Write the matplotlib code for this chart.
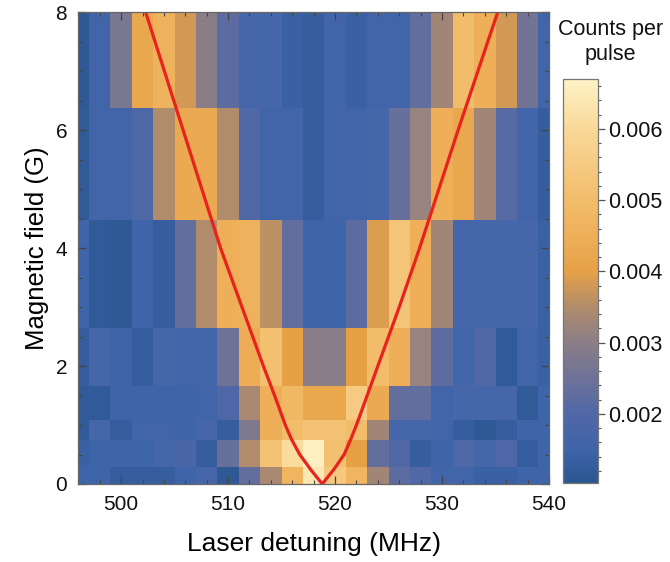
import numpy as np
import matplotlib
matplotlib.use("Agg")
import matplotlib.pyplot as plt
from matplotlib.colors import LinearSegmentedColormap, Normalize
from matplotlib.ticker import MultipleLocator

plt.rcParams['font.family'] = ['Liberation Sans', 'DejaVu Sans']

# Laser detuning (MHz) at column centres
detuning = np.arange(496, 541, 2)
# Magnetic field bin edges (G)
field_edges = [0, 0.29, 0.75, 1.08, 1.66, 2.65, 4.47, 6.37, 8]

# Counts per pulse, rows from lowest field to highest (x1e-3)
row0 = [1.5, 1.5, 1.3, 1.3, 1.3, 1.5, 1.7, 1.1, 2.3, 3.4, 4.7, 6.4, 5.4, 4.7, 3.3, 2.2, 2.0, 1.6, 1.6, 1.4, 1.4, 1.5, 1.5]
row1 = [1.4, 1.5, 1.5, 1.5, 1.7, 1.8, 1.3, 2.4, 3.5, 5.2, 6.1, 6.6, 5.1, 4.0, 2.3, 2.0, 1.3, 1.5, 1.9, 1.7, 1.9, 1.3, 1.5]
row2 = [1.2, 1.7, 1.3, 1.6, 1.6, 1.5, 1.7, 1.3, 2.8, 4.5, 5.0, 5.2, 5.2, 5.0, 3.3, 1.7, 1.7, 1.6, 1.3, 1.1, 1.3, 1.5, 1.5]
row3 = [1.2, 1.2, 1.5, 1.5, 1.5, 1.5, 1.6, 1.9, 3.4, 4.5, 4.8, 4.2, 4.2, 5.5, 4.3, 2.3, 2.3, 1.6, 1.7, 1.7, 1.7, 1.2, 1.5]
row4 = [1.3, 1.7, 1.5, 1.3, 1.7, 1.6, 1.6, 2.5, 4.4, 5.1, 4.0, 3.0, 3.0, 4.0, 5.0, 4.5, 3.2, 2.2, 1.6, 2.0, 1.2, 1.6, 1.4]
row5 = [1.5, 1.2, 1.1, 1.5, 1.3, 2.3, 3.5, 4.5, 4.6, 3.6, 2.3, 1.5, 1.5, 2.2, 3.9, 5.3, 4.5, 3.3, 1.7, 1.7, 1.7, 1.7, 1.4]
row6 = [1.2, 1.6, 1.6, 1.9, 3.5, 4.3, 4.3, 3.5, 2.0, 1.6, 1.6, 1.3, 1.6, 1.6, 1.7, 2.4, 3.2, 4.5, 4.2, 3.3, 2.1, 1.6, 1.3]
row7 = [1.1, 1.6, 2.7, 4.2, 4.6, 3.8, 3.0, 2.2, 1.7, 1.7, 1.4, 1.3, 1.6, 1.4, 1.6, 1.6, 2.3, 3.3, 5.0, 4.5, 3.8, 2.6, 1.6]

# Theory curve
curve_field = [0, 0.25, 0.5, 0.75, 1, 1.5, 2, 3, 4, 5, 6, 7, 8]
curve_left = [518.8, 517.7, 516.7, 515.95, 515.35, 514.35, 513.3, 511.3, 509.3, 507.55, 505.8, 504.05, 502.3]
curve_right = [518.8, 519.9, 520.85, 521.45, 522.0, 523.0, 524.0, 526.0, 527.9, 529.7, 531.5, 533.35, 535.2]

counts = np.array([row0, row1, row2, row3, row4, row5, row6, row7]) * 1e-3

vmin, vmax = 0.00103, 0.0067
anchors = [
    (0.00103, '#2b5790'),
    (0.0015, '#3e64a9'),
    (0.0020, '#5168a6'),
    (0.0025, '#6e7298'),
    (0.0030, '#8a7e88'),
    (0.0035, '#b08c6c'),
    (0.0040, '#e6a147'),
    (0.0045, '#eeaf58'),
    (0.0050, '#f2bd6a'),
    (0.0055, '#f6ca82'),
    (0.0060, '#f9d898'),
    (0.0067, '#fdf2c6'),
]
cmap = LinearSegmentedColormap.from_list(
    'cpp', [((v - vmin) / (vmax - vmin), c) for v, c in anchors])

det = np.array(detuning, dtype=float)
x_edges = np.concatenate([[det[0]], (det[:-1] + det[1:]) / 2, [det[-1]]])

fig = plt.figure(figsize=(6.70, 5.62), dpi=100)
ax = fig.add_axes([0.1169, 0.1388, 0.7025, 0.8393])
mesh = ax.pcolormesh(x_edges, field_edges, counts, cmap=cmap,
                     norm=Normalize(vmin=vmin, vmax=vmax), shading='flat')
ax.plot(curve_left, curve_field, color='#e8231f', lw=2.3, solid_joinstyle='round')
ax.plot(curve_right, curve_field, color='#e8231f', lw=2.3, solid_joinstyle='round')
ax.set_xlim(496, 540)
ax.set_ylim(0, 8)

ax.xaxis.set_major_locator(MultipleLocator(10))
ax.xaxis.set_minor_locator(MultipleLocator(2))
ax.yaxis.set_major_locator(MultipleLocator(2))
ax.yaxis.set_minor_locator(MultipleLocator(0.5))
ax.tick_params(which='both', direction='in', top=True, right=True,
               color='#444444', labelsize=15, labelcolor='#111111')
ax.tick_params(which='major', length=6, width=0.9)
ax.tick_params(which='minor', length=3, width=0.8)
ax.tick_params(axis='x', pad=8)
ax.tick_params(axis='y', pad=8)
for s in ax.spines.values():
    s.set_color('#666666')
    s.set_linewidth(0.9)

ax.set_xlabel('Laser detuning (MHz)', fontsize=19, labelpad=13)
ax.set_ylabel('Magnetic field (G)', fontsize=18.5, labelpad=5)

cax = fig.add_axes([562.5 / 670, 1 - 483 / 562, 35 / 670, 404 / 562])
cb = fig.colorbar(mesh, cax=cax)
cb.outline.set_edgecolor('#777777')
cb.outline.set_linewidth(0.9)
cb.set_ticks([0.002, 0.003, 0.004, 0.005, 0.006])
cb.set_ticklabels(['0.002', '0.003', '0.004', '0.005', '0.006'])
cax.yaxis.set_minor_locator(MultipleLocator(0.0002))
cax.tick_params(which='both', direction='out', color='#555555', labelsize=15.5,
                labelcolor='#111111')
cax.tick_params(which='major', length=5, width=0.9, pad=2.5)
cax.tick_params(which='minor', length=2.5, width=0.8)
fig.text(610.5 / 670, 1 - 42 / 562, 'Counts per\npulse', ha='center', va='center',
         fontsize=15.5, linespacing=1.3, color='#111111')

fig.savefig('out.png', dpi=100)
